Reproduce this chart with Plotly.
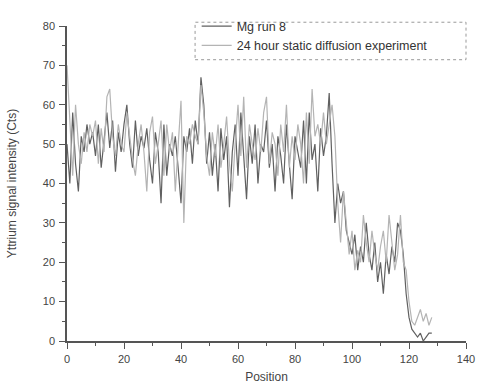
import plotly.graph_objects as go

positions = list(range(0, 129))

mg_run_8 = [
    50, 40, 58, 45, 38, 52, 48, 55, 50, 53,
    47, 55, 44, 52, 58, 49, 56, 43, 53, 48,
    55, 60, 50, 44, 56, 47, 52, 49, 54, 46,
    40, 53, 48, 35, 55, 42, 50, 47, 52, 44,
    35, 52, 48, 54, 45, 56, 50, 67, 60, 45,
    53, 42, 50, 38, 54, 46, 52, 34, 48, 55,
    42, 58, 47, 36, 52, 45, 55, 40, 50, 48,
    56, 44, 50, 38, 52, 47, 40, 55, 45, 36,
    52, 48, 44, 56, 40, 58, 46, 50, 38, 54,
    47, 52, 63, 45, 30, 40, 35, 38, 28, 25,
    22, 27, 18, 24, 20, 30, 22, 18, 25, 15,
    20, 12, 22, 17, 24, 20, 30, 28, 22, 12,
    6, 3, 2, 1, 2, 0, 1, 2, 2,
]

static_24h = [
    70, 55, 42, 60, 50, 45, 53, 48, 55, 52,
    56, 45, 54, 48, 62, 64, 52, 47, 55, 50,
    48, 58, 52, 46, 42, 50, 55, 48, 38, 53,
    57, 45, 50, 56, 42, 55, 48, 53, 38, 50,
    61, 30, 52, 50, 55, 52, 50, 65, 58, 47,
    42, 53, 47, 55, 44, 50, 57, 45, 38, 50,
    60, 47, 62, 44, 55, 50, 46, 54, 48, 58,
    62, 45, 53, 50, 42, 55, 48, 60, 44, 52,
    46, 55, 50, 40, 58, 45, 64, 52, 55, 50,
    58, 50, 55, 60, 52, 35, 25, 38, 30, 22,
    28, 18, 23, 20, 32, 25, 20, 28, 22, 18,
    24, 28, 20, 32, 25, 18, 22, 32, 20, 18,
    10, 5, 4, 6, 8, 5, 7, 4, 6,
]

fig = go.Figure()
fig.add_trace(go.Scatter(x=positions, y=mg_run_8, mode="lines", name="Mg run 8",
                         line=dict(color="#606060", width=1.2)))
fig.add_trace(go.Scatter(x=positions, y=static_24h, mode="lines",
                         name="24 hour static diffusion experiment",
                         line=dict(color="#b4b4b4", width=1.2)))

axis_common = dict(showline=True, linecolor="#555", linewidth=1.5, ticks="outside",
                   ticklen=6, tickcolor="#555", showgrid=False, zeroline=False,
                   automargin=False,
                   tickfont=dict(family="Liberation Sans, Arial", size=11, color="#444"))

fig.update_layout(
    width=478, height=384,
    margin=dict(l=67, r=12, t=16, b=43),
    paper_bgcolor="white", plot_bgcolor="white",
    xaxis=dict(range=[0, 140], dtick=20, tick0=0, ticklabelstandoff=1,
               minor=dict(dtick=10, ticks="outside", ticklen=3, tickcolor="#555"),
               title=dict(text="Position", standoff=16,
                          font=dict(family="Liberation Sans, Arial", size=12, color="#444")),
               **axis_common),
    yaxis=dict(range=[0, 80], dtick=10, tick0=0, ticklabelstandoff=2,
               minor=dict(dtick=5, ticks="outside", ticklen=3, tickcolor="#555"),
               title=dict(text="Yttrium signal intensity (Cts)", standoff=24,
                          font=dict(family="Liberation Sans, Arial", size=12, color="#444")),
               **axis_common),
    legend=dict(x=0.325, y=1.046, xanchor="left", yanchor="top",
                bgcolor="rgba(255,255,255,0)", borderwidth=0,
                font=dict(family="Liberation Sans, Arial", size=12.5, color="#333"),
                tracegroupgap=0, itemwidth=30),
    showlegend=True,
)

fig.add_shape(type="rect", xref="paper", yref="paper",
              x0=0.321, x1=1.0, y0=0.893, y1=1.012,
              line=dict(color="#999", width=1, dash="dot"))

fig.write_html("out.html")
